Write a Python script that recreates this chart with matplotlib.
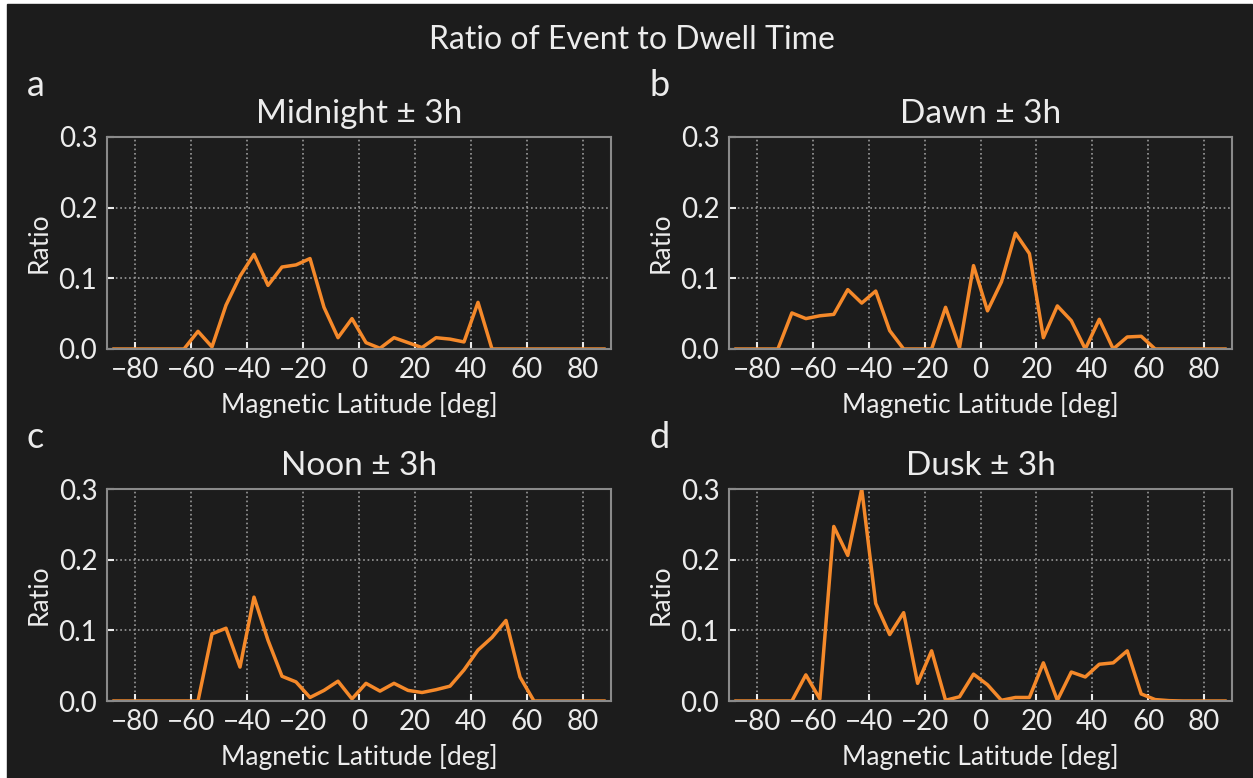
import numpy as np
from matplotlib import pyplot as plt
from matplotlib.patches import Rectangle

# bin centres of the 5 degree magnetic latitude bins
lat = np.arange(-87.5, 90, 5)

midnight = [0, 0, 0, 0, 0, 0, 0.025, 0.003, 0.062, 0.103, 0.134, 0.090,
            0.116, 0.119, 0.128, 0.059, 0.016, 0.043, 0.009, 0.001, 0.016,
            0.009, 0.002, 0.016, 0.014, 0.010, 0.066, 0, 0, 0, 0, 0, 0, 0, 0, 0]
dawn = [0, 0, 0, 0, 0.051, 0.043, 0.047, 0.049, 0.084, 0.065, 0.082, 0.026,
        0, 0, 0, 0.059, 0.002, 0.118, 0.054, 0.095, 0.164, 0.135, 0.016,
        0.061, 0.040, 0, 0.042, 0, 0.017, 0.018, 0, 0, 0, 0, 0, 0]
noon = [0, 0, 0, 0, 0, 0, 0, 0.095, 0.103, 0.048, 0.147, 0.086, 0.035,
        0.027, 0.005, 0.015, 0.028, 0.003, 0.025, 0.014, 0.025, 0.015,
        0.012, 0.016, 0.021, 0.044, 0.072, 0.090, 0.114, 0.034, 0, 0, 0, 0, 0, 0]
dusk = [0, 0, 0, 0, 0, 0.037, 0.003, 0.247, 0.206, 0.300, 0.138, 0.094,
        0.125, 0.025, 0.071, 0.001, 0.006, 0.038, 0.023, 0.001, 0.005,
        0.005, 0.054, 0.001, 0.041, 0.034, 0.052, 0.054, 0.071, 0.010,
        0.002, 0.0005, 0, 0, 0, 0]

panels = [("a", "Midnight ± 3h", midnight), ("b", "Dawn ± 3h", dawn),
          ("c", "Noon ± 3h", noon), ("d", "Dusk ± 3h", dusk)]

bg = "#1c1c1c"
fg = "#ececec"
plt.rcParams["font.family"] = ["Lato", "DejaVu Sans"]

W, H = 1253, 778
fig = plt.figure(figsize=(W / 100, H / 100), dpi=100, facecolor="white")
fig.patches.append(Rectangle((7 / W, 0), 1 - 8 / W, 1 - 4 / H,
                             transform=fig.transFigure, color=bg, zorder=-10))

# axes boxes in pixels: left, top, right, bottom
boxes = [(107, 137, 611, 349), (729, 137, 1232, 349),
         (107, 489, 611, 701), (729, 489, 1232, 701)]

for (letter, title, vals), (l, t, r, b) in zip(panels, boxes):
    ax = fig.add_axes([l / W, 1 - b / H, (r - l) / W, (b - t) / H])
    ax.set_facecolor(bg)
    ax.plot(lat, vals, color="#f5892a", lw=2.5)
    ax.set_xlim(-90, 90)
    ax.set_ylim(0, 0.3)
    ax.set_xticks(np.arange(-80, 81, 20))
    ax.set_yticks([0, 0.1, 0.2, 0.3])
    ax.set_yticklabels(["0.0", "0.1", "0.2", "0.3"])
    ax.grid(True, ls=":", color="#9a9a9a", lw=1.2)
    for s in ax.spines.values():
        s.set_color("#8a8a8a")
        s.set_linewidth(1.5)
    ax.tick_params(direction="in", colors=fg, labelsize=20, length=5,
                   width=1.5, pad=6)
    ax.tick_params(axis="y", pad=7)
    ax.set_xlabel("Magnetic Latitude [deg]", color=fg, fontsize=19, labelpad=6)
    ax.set_ylabel("Ratio", color=fg, fontsize=19, labelpad=5)
    ax.set_title(title, color=fg, fontsize=24, pad=10)
    fig.text((l - 80) / W, 1 - (t - 52) / H, letter, color=fg, fontsize=26,
             ha="left", va="center")

fig.text(632 / W, 1 - 40 / H, "Ratio of Event to Dwell Time", color=fg,
         fontsize=23, ha="center", va="center")

plt.savefig("out.png", dpi=100, facecolor=fig.get_facecolor())
